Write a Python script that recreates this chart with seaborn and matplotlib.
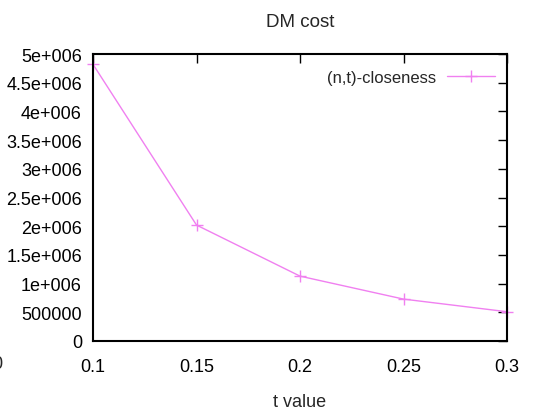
import matplotlib
matplotlib.use("Agg")
import matplotlib.pyplot as plt
import seaborn as sns
import pandas as pd

t_values = [0.1, 0.15, 0.2, 0.25, 0.3]
dm_cost = [4820000, 2020000, 1130000, 730000, 510000]
series_name = "(n,t)-closeness"
x_ticks = [0.1, 0.15, 0.2, 0.25, 0.3]
x_tick_labels = ["0.1", "0.15", "0.2", "0.25", "0.3"]
y_ticks = [0, 500000, 1000000, 1500000, 2000000, 2500000, 3000000, 3500000, 4000000, 4500000, 5000000]
y_tick_labels = ["0", "500000", "1e+006", "1.5e+006", "2e+006", "2.5e+006", "3e+006",
                 "3.5e+006", "4e+006", "4.5e+006", "5e+006"]

sns.set_style("white")
plt.rcParams['font.family'] = ['Liberation Sans Narrow', 'Liberation Sans', 'DejaVu Sans']
fs = 13

df = pd.DataFrame({"t": t_values, "cost": dm_cost, "series": series_name})

fig = plt.figure(figsize=(5.33, 4.14), dpi=100)
ax = fig.add_axes([93/533, 1 - 342/414, (507-93)/533, (342-55)/414])

line_color = "#f080f0"
sns.lineplot(data=df, x="t", y="cost", hue="series", palette=[line_color],
             marker="+", markersize=9, markeredgewidth=1.0, linewidth=1.0, ax=ax,
             markeredgecolor=line_color, clip_on=False)

ax.set_xlim(0.1, 0.3)
ax.set_ylim(0, 5000000)
ax.set_xticks(x_ticks)
ax.set_xticklabels(x_tick_labels)
ax.set_yticks(y_ticks)
ax.set_yticklabels(y_tick_labels)
ax.tick_params(direction="in", length=6.5, width=1, top=True, right=True, colors="black",
               labelsize=fs)
ax.tick_params(axis="y", pad=8)
ax.tick_params(axis="x", pad=12)
for s in ax.spines.values():
    s.set_color("black")
    s.set_linewidth(1.5)
    s.set_visible(True)
ax.set_xlabel("t value", fontsize=fs, labelpad=13)
ax.set_ylabel("")
ax.set_title("DM cost", fontsize=fs + 0.5, pad=20)

leg = ax.legend(loc="upper right", bbox_to_anchor=(1.0, 0.985), frameon=False,
                markerfirst=False, handlelength=2.9,
                fontsize=12, borderaxespad=0.3, handletextpad=0.65)

fig.text(2/533, 1 - 365/414, "0", fontsize=fs, ha="right", va="center")

fig.savefig("out.png", dpi=100)
